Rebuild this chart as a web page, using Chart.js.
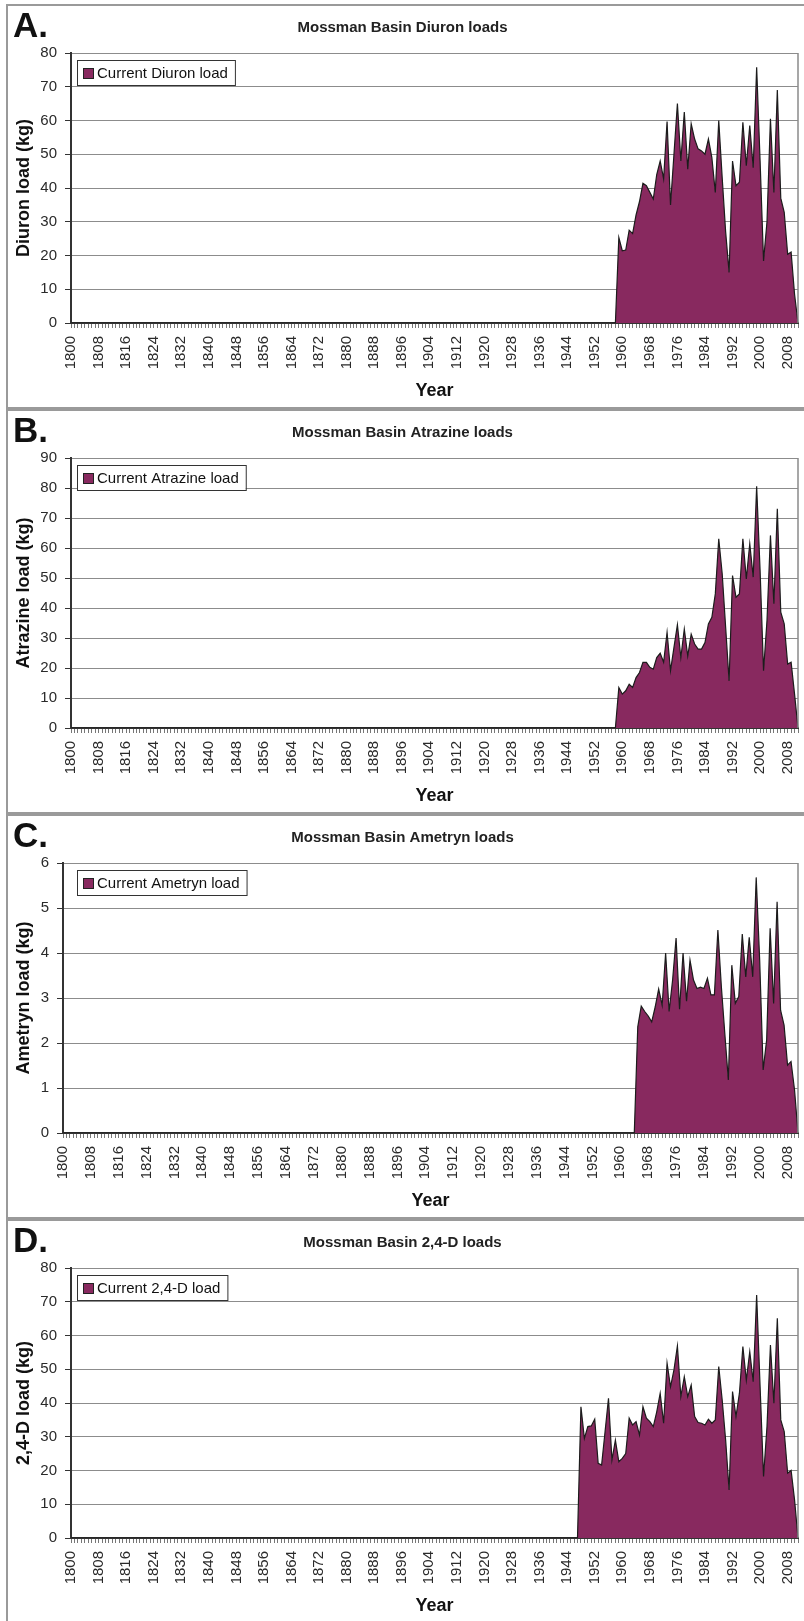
<!DOCTYPE html>
<html>
<head>
<meta charset="utf-8">
<title>Mossman Basin herbicide loads</title>
<script src="https://cdn.jsdelivr.net/npm/chart.js@4.4.1/dist/chart.umd.min.js"></script>
<style>
  html, body { margin: 0; padding: 0; background: #fff; }
  body { width: 804px; height: 1621px; position: relative; overflow: hidden; }
  .frame { position: absolute; left: 6px; width: 840px; height: 405px; box-sizing: border-box; border: 2px solid #9a9a9a; }
  canvas { position: absolute; left: 7px; }
</style>
</head>
<body>
<script>
// category axis: one entry per year
const years = [];
for (let y = 1800; y <= 2011; y++) years.push(String(y));

const tickLabels = ['1800', '1808', '1816', '1824', '1832', '1840', '1848', '1856', '1864',
  '1872', '1880', '1888', '1896', '1904', '1912', '1920', '1928', '1936', '1944', '1952',
  '1960', '1968', '1976', '1984', '1992', '2000', '2008'];

// loads in kg, from the first year listed up to 2011 (zero before that)
const diuronStart = 1958;
const diuronLoads = [0, 25.3, 21.4, 21.6, 27.5, 26.5, 32, 36, 41.4, 40.7, 38.7, 36.7, 44, 48,
  42.7, 59.7, 35, 50, 65, 48, 62.5, 45.6, 59, 54.5, 51.6, 51, 50, 54.5, 49, 38.7, 60, 43, 27,
  15, 48, 40.7, 41.7, 59.5, 46.6, 58.5, 46, 75.8, 48, 18.4, 30, 60.5, 38.7, 69, 37, 32.8, 20.4,
  21, 8.5, 0];

const atrazineStart = 1958;
const atrazineLoads = [0, 13.5, 11.3, 12.4, 14.6, 13.5, 16.8, 18.5, 21.9, 21.9, 20.2, 19.6,
  23.5, 24.9, 21.9, 31.9, 19.1, 26.9, 34.4, 23.5, 33, 24, 31.3, 28, 26.3, 26.3, 28.5, 34.7,
  36.9, 44.7, 63.1, 51.4, 33.6, 15.7, 50.8, 43.6, 44.7, 63.1, 49.7, 61.4, 50.3, 80.6, 52.5,
  19.1, 35.8, 64.2, 41.4, 73.1, 38.6, 34.7, 21.3, 21.9, 11.3, 0];

const ametrynStart = 1964;
const ametrynLoads = [0, 2.36, 2.82, 2.7, 2.6, 2.47, 2.8, 3.2, 2.84, 4.0, 2.7, 3.4, 4.33, 2.75,
  4.0, 2.93, 3.84, 3.4, 3.21, 3.24, 3.21, 3.44, 3.07, 3.07, 4.51, 3.25, 2.2, 1.18, 3.73, 2.88,
  3.03, 4.42, 3.47, 4.35, 3.47, 5.68, 3.84, 1.4, 2.07, 4.55, 2.88, 5.14, 2.73, 2.4, 1.51, 1.59,
  0.96, 0];

const d24Start = 1947;
const d24Loads = [0, 38.9, 29.5, 33, 33.2, 35.2, 22.1, 21.6, 31.5, 41.4, 23.1, 29, 22.6, 23.6,
  25, 35.5, 33.5, 34.5, 30.5, 38.9, 35.5, 34.5, 33, 37.4, 42.9, 34, 51.8, 44.8, 49.8, 56.9,
  41.9, 47.8, 41.9, 45.3, 36, 34.2, 34, 33.5, 35.2, 34, 35, 50.8, 40.9, 29, 14.2, 43.4, 36,
  42.9, 56.7, 46.8, 55.2, 46.3, 72, 44.8, 18.2, 33, 57.2, 39.9, 65.1, 35, 31.5, 19.2, 20, 11.3,
  0];

const panels = [
  { letter: 'A.', title: 'Mossman Basin Diuron loads', yTitle: 'Diuron load (kg)',
    legend: 'Current Diuron load', start: diuronStart, loads: diuronLoads, max: 80, step: 10, axisWidth: 64 },
  { letter: 'B.', title: 'Mossman Basin Atrazine loads', yTitle: 'Atrazine load (kg)',
    legend: 'Current Atrazine load', start: atrazineStart, loads: atrazineLoads, max: 90, step: 10, axisWidth: 64 },
  { letter: 'C.', title: 'Mossman Basin Ametryn loads', yTitle: 'Ametryn load (kg)',
    legend: 'Current Ametryn load', start: ametrynStart, loads: ametrynLoads, max: 6, step: 1, axisWidth: 56 },
  { letter: 'D.', title: 'Mossman Basin 2,4-D loads', yTitle: '2,4-D load (kg)',
    legend: 'Current 2,4-D load', start: d24Start, loads: d24Loads, max: 80, step: 10, axisWidth: 64 }
];

const plum = '#88295f';
const FONT = '"Liberation Sans", Arial, sans-serif';
Chart.defaults.font.family = FONT;

function fullSeries(start, loads) {
  return years.map(y => {
    const k = Number(y) - start;
    return k >= 0 && k < loads.length ? loads[k] : 0;
  });
}

// plot-area right edge, panel letter and the boxed legend
const panelDecor = {
  id: 'panelDecor',
  afterDraw(chart, args, opts) {
    const { ctx, chartArea: a } = chart;
    const ds = chart.data.datasets[0];
    ctx.save();
    ctx.strokeStyle = '#8a8a8a';
    ctx.lineWidth = 1.5;
    ctx.beginPath();
    ctx.moveTo(a.right, a.top);
    ctx.lineTo(a.right, a.bottom);
    ctx.stroke();

    ctx.fillStyle = '#111';
    ctx.font = 'bold 35px ' + FONT;
    ctx.textAlign = 'left';
    ctx.textBaseline = 'alphabetic';
    ctx.fillText(opts.letter, 6, 32);

    ctx.font = '15px ' + FONT;
    const tw = ctx.measureText(ds.label).width;
    const bx = 70, by = a.top + 7, bw = tw + 27, bh = 25;
    ctx.fillStyle = '#fff';
    ctx.fillRect(bx, by, bw, bh);
    ctx.strokeStyle = '#333';
    ctx.lineWidth = 1;
    ctx.strokeRect(bx + 0.5, by + 0.5, bw, bh);
    ctx.fillStyle = ds.backgroundColor;
    ctx.fillRect(bx + 6, by + 8, 11, 11);
    ctx.strokeStyle = '#222';
    ctx.strokeRect(bx + 6.5, by + 8.5, 10, 10);
    ctx.fillStyle = '#111';
    ctx.textBaseline = 'middle';
    ctx.fillText(ds.label, bx + 20, by + 13.5);
    ctx.restore();
  }
};

panels.forEach((p, i) => {
  const frame = document.createElement('div');
  frame.className = 'frame';
  frame.style.top = (4 + i * 405) + 'px';
  document.body.appendChild(frame);

  const cv = document.createElement('canvas');
  cv.width = 797;
  cv.height = 400;
  cv.style.top = (5 + i * 405) + 'px';
  document.body.appendChild(cv);

  new Chart(cv, {
    type: 'line',
    data: {
      labels: years,
      datasets: [{
        label: p.legend,
        data: fullSeries(p.start, p.loads),
        fill: 'origin',
        backgroundColor: plum,
        borderColor: '#1c1c1c',
        borderWidth: 1.2,
        pointRadius: 0,
        tension: 0
      }]
    },
    options: {
      responsive: false,
      animation: false,
      layout: { padding: { left: 0, right: 6, top: 0, bottom: 0 } },
      plugins: {
        legend: { display: false },
        tooltip: { enabled: false },
        title: {
          display: true,
          text: p.title,
          color: '#222',
          font: { size: 15, weight: 'bold' },
          padding: { top: 14, bottom: 16 }
        },
        panelDecor: { letter: p.letter }
      },
      scales: {
        x: {
          grid: { drawOnChartArea: false, drawTicks: true, tickLength: 5, tickColor: '#777' },
          border: { color: '#333', width: 2 },
          ticks: {
            autoSkip: false,
            minRotation: 90,
            maxRotation: 90,
            padding: 8,
            color: '#2a2a2a',
            font: { size: 15 },
            callback(v) {
              const y = this.getLabelForValue(v);
              return tickLabels.includes(y) ? y : '';
            }
          },
          title: {
            display: true,
            text: 'Year',
            color: '#111',
            font: { size: 18, weight: 'bold' },
            padding: { top: 0, bottom: 3 }
          },
          afterFit(s) {
            s.height = 82;
            s.paddingLeft = 0;
            s.paddingRight = 0;
          }
        },
        y: {
          min: 0,
          max: p.max,
          ticks: { stepSize: p.step, padding: 8, color: '#2a2a2a', font: { size: 15 } },
          grid: { color: '#8c8c8c', lineWidth: 1, tickColor: '#333', tickLength: 6 },
          border: { color: '#333', width: 2 },
          title: {
            display: true,
            text: p.yTitle,
            color: '#111',
            font: { size: 18, weight: 'bold' },
            padding: { top: 6, bottom: 0 }
          },
          afterFit(s) { s.width = p.axisWidth; }
        }
      }
    },
    plugins: [panelDecor]
  });
});
</script>
</body>
</html>
